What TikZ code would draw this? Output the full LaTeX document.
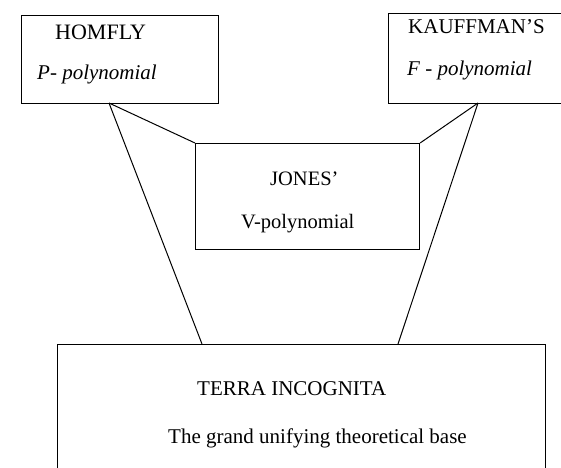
\documentclass[tikz,border=0pt]{standalone}
\usepackage{fontspec}
\setmainfont{Liberation Serif}
\begin{document}
\begin{tikzpicture}[x=1pt,y=-1pt,
  box/.style={draw=black,line width=1.1pt,rectangle,inner sep=0pt,anchor=north west},
  lbl/.style={inner sep=0pt,anchor=base west,font=\fontsize{20.5}{24}\selectfont},
  big/.style={inner sep=0pt,anchor=base west,font=\fontsize{21}{25}\selectfont},
  conn/.style={draw=black,line width=1pt}]
\useasboundingbox[fill=white] (0,0) rectangle (561,467);
% boxes
\node[box,minimum width=197pt,minimum height=88pt] (homfly) at (21,15) {};
\node[box,minimum width=180pt,minimum height=90pt] (kauff) at (388,13) {};
\node[box,minimum width=224pt,minimum height=106pt] (jones) at (195,143) {};
\node[box,minimum width=488pt,minimum height=140pt] (terra) at (57,344) {};
% texts
\node[big,font=\fontsize{22}{26}\selectfont] (t1) at (55,39) {HOMFLY};
\node[big] (t2) at (37,79) {\itshape P- polynomial};
\node[big] (t3) at (408,33) {KAUFFMAN'S};
\node[big] (t4) at (407,75) {\itshape F - polynomial};
\node[lbl] (t5) at (270,185) {JONES'};
\node[lbl] (t6) at (241,228) {V-polynomial};
\node[big] (t7) at (197,395) {TERRA INCOGNITA};
\node[big] (t8) at (168,443) {The grand unifying theoretical base};
% connector points
\coordinate (hb) at (109,103);
\coordinate (kb) at (478,103);
\coordinate (tl) at (202,344);
\coordinate (tr) at (398,344);
\draw[conn] (hb) -- (jones.north west);
\draw[conn] (hb) -- (tl);
\draw[conn] (kb) -- (jones.north east);
\draw[conn] (kb) -- (tr);
\end{tikzpicture}
\end{document}
